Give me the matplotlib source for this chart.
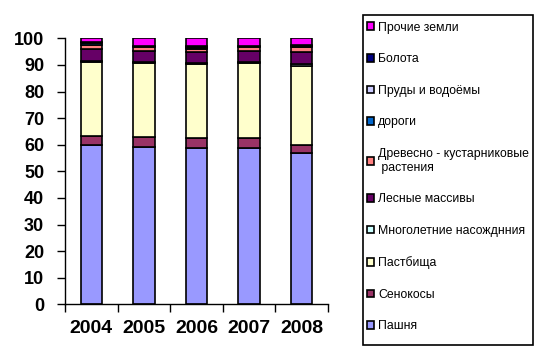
import matplotlib
matplotlib.use("Agg")
import matplotlib.pyplot as plt
from matplotlib.patches import Rectangle
import numpy as np

plt.rcParams['font.family'] = ['Liberation Sans', 'DejaVu Sans']

years = ['2004', '2005', '2006', '2007', '2008']
series_names = ['Пашня', 'Сенокосы', 'Пастбища', 'Многолетние насожднния',
                'Лесные массивы', 'Древесно - кустарниковые\n растения', 'дороги',
                'Пруды и водоёмы', 'Болота', 'Прочие земли']

pashnya     = [59.8, 59.2, 58.9, 58.9, 56.8]
senokosy    = [3.4, 3.6, 3.5, 3.5, 3.1]
pastbischa  = [28.0, 27.8, 27.8, 28.2, 29.8]
mnogoletnie = [0.3, 0.5, 0.5, 0.5, 0.5]
lesnye      = [4.5, 4.2, 4.0, 4.2, 4.8]
drevesno    = [1.4, 1.5, 1.4, 1.5, 1.6]
dorogi      = [0.8, 0.2, 0.2, 0.2, 0.2]
prudy       = [0.3, 0.2, 0.6, 0.2, 0.2]
bolota      = [0.2, 0.1, 0.1, 0.1, 0.7]
prochie     = [1.3, 2.7, 3.0, 2.7, 2.3]

series = [pashnya, senokosy, pastbischa, mnogoletnie, lesnye, drevesno,
          dorogi, prudy, bolota, prochie]
colors = ['#9999FF', '#993366', '#FFFFCC', '#CCFFFF', '#660066', '#FF8080',
          '#0066CC', '#CCCCFF', '#000080', '#FF00FF']

W, H = 543, 363
fig = plt.figure(figsize=(W/100, H/100), dpi=100)
ax = fig.add_axes([65/W, 1 - 304.3/H, 263/W, 265.9/H])

x = np.arange(len(years))
bottom = np.zeros(len(years))
handles = []
for vals, c, name in zip(series, colors, series_names):
    b = ax.bar(x, vals, width=0.41, bottom=bottom, color=c, edgecolor='black',
               linewidth=1.2, label=name)
    handles.append(b)
    bottom += np.array(vals)

ax.set_xlim(-0.5, len(years) - 0.5)
ax.set_ylim(0, 100)
ax.set_yticks(np.arange(0, 101, 10))
ax.set_xticks(np.arange(-0.5, len(years), 1.0))
ax.set_xticklabels([])
ax.set_xticks(x, minor=True)
ax.set_xticklabels(years, minor=True, fontsize=14, fontweight='bold')
ax.tick_params(axis='x', which='minor', length=0, pad=11)
ax.tick_params(axis='x', which='major', length=6, direction='out', width=1)
ax.tick_params(axis='y', length=6, direction='out', width=1, pad=9, labelsize=13)
for lbl in ax.get_yticklabels():
    lbl.set_fontweight('bold')
for s in ['top', 'right']:
    ax.spines[s].set_visible(False)
for s in ['left', 'bottom']:
    ax.spines[s].set_linewidth(1)

# legend frame
fig.patches.append(Rectangle((363.3/W, 1 - 345/H), (532.7-363.3)/W, (345-15)/H,
                             transform=fig.transFigure, fill=False,
                             edgecolor='black', linewidth=1.2))

leg = fig.legend(handles[::-1], [h.get_label() for h in handles[::-1]],
                 loc='upper left', bbox_to_anchor=(363.3/W, 1 - 18/H),
                 fontsize=8.8, frameon=False,
                 handlelength=0.6, handleheight=0.6, handletextpad=0.3,
                 labelspacing=1.6, borderpad=0.3, borderaxespad=0)

fig.savefig('out.png', dpi=100)
